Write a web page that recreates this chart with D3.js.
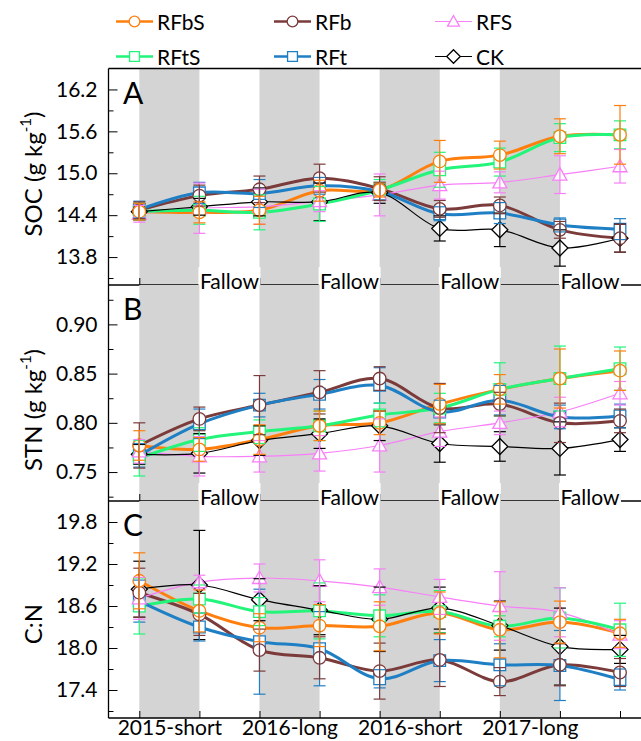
<!DOCTYPE html>
<html>
<head>
<meta charset="utf-8">
<script src="https://cdn.jsdelivr.net/npm/d3@7"></script>
<style>
body { margin: 0; background: #fff; }
svg { display: block; font-family: Lato, "Open Sans", sans-serif; }
</style>
</head>
<body>
<svg width="641" height="741"></svg>
<script>
// sampling points (9 seasons), grey bands = cropping seasons
const points = [1, 2, 3, 4, 5, 6, 7, 8, 9]
const seasonLabels = ["2015-short", "2016-long", "2016-short", "2017-long"]
const seasonPos = [1.5, 3.5, 5.5, 7.5]
const bands = [[1, 2], [3, 4], [5, 6], [7, 8]]
const fallowPos = [2.5, 4.5, 6.5, 8.5]
const seriesNames = ["RFbS", "RFb", "RFS", "RFtS", "RFt", "CK"]

// rows follow seriesNames
const socMean = [
	[14.45, 14.44, 14.47, 14.75, 14.76, 15.17, 15.26, 15.53, 15.55],
	[14.47, 14.68, 14.77, 14.93, 14.78, 14.49, 14.54, 14.19, 14.07],
	[14.42, 14.50, 14.52, 14.60, 14.69, 14.83, 14.87, 14.98, 15.10],
	[14.45, 14.47, 14.44, 14.56, 14.76, 15.05, 15.16, 15.51, 15.55],
	[14.48, 14.72, 14.71, 14.82, 14.74, 14.42, 14.43, 14.26, 14.20],
	[14.45, 14.52, 14.59, 14.59, 14.72, 14.21, 14.19, 13.93, 14.07]
]
const socErr = [
	[0.12, 0.15, 0.20, 0.15, 0.10, 0.30, 0.20, 0.25, 0.42],
	[0.12, 0.15, 0.19, 0.20, 0.17, 0.12, 0.12, 0.12, 0.20],
	[0.12, 0.36, 0.25, 0.15, 0.30, 0.20, 0.15, 0.27, 0.24],
	[0.12, 0.20, 0.25, 0.25, 0.15, 0.25, 0.20, 0.20, 0.20],
	[0.12, 0.15, 0.20, 0.12, 0.12, 0.10, 0.15, 0.10, 0.15],
	[0.12, 0.12, 0.20, 0.27, 0.15, 0.18, 0.24, 0.26, 0.20]
]
const stnMean = [
	[0.777, 0.773, 0.783, 0.797, 0.800, 0.819, 0.834, 0.845, 0.853],
	[0.777, 0.804, 0.818, 0.831, 0.845, 0.815, 0.819, 0.800, 0.802],
	[0.771, 0.766, 0.766, 0.769, 0.777, 0.791, 0.800, 0.811, 0.830],
	[0.764, 0.783, 0.791, 0.797, 0.808, 0.815, 0.834, 0.845, 0.855],
	[0.767, 0.799, 0.818, 0.829, 0.838, 0.811, 0.823, 0.806, 0.807],
	[0.768, 0.769, 0.782, 0.789, 0.797, 0.779, 0.776, 0.774, 0.783]
]
const stnErr = [
	[0.015, 0.012, 0.015, 0.015, 0.012, 0.020, 0.015, 0.030, 0.020],
	[0.023, 0.012, 0.030, 0.022, 0.012, 0.025, 0.012, 0.020, 0.012],
	[0.012, 0.020, 0.016, 0.018, 0.027, 0.015, 0.012, 0.015, 0.012],
	[0.018, 0.012, 0.012, 0.015, 0.012, 0.015, 0.027, 0.033, 0.022],
	[0.012, 0.015, 0.012, 0.015, 0.018, 0.012, 0.015, 0.012, 0.012],
	[0.010, 0.020, 0.015, 0.015, 0.015, 0.019, 0.015, 0.027, 0.012]
]
const cnMean = [
	[18.96, 18.53, 18.29, 18.32, 18.31, 18.50, 18.26, 18.37, 18.21],
	[18.79, 18.48, 17.97, 17.86, 17.67, 17.83, 17.52, 17.76, 17.65],
	[18.71, 18.94, 19.00, 18.96, 18.87, 18.73, 18.60, 18.51, 18.19],
	[18.60, 18.70, 18.52, 18.53, 18.46, 18.52, 18.31, 18.43, 18.26],
	[18.67, 18.30, 18.09, 17.99, 17.56, 17.82, 17.76, 17.75, 17.55],
	[18.84, 18.90, 18.69, 18.54, 18.41, 18.57, 18.32, 18.02, 17.98]
]
const cnErr = [
	[0.40, 0.30, 0.20, 0.30, 0.35, 0.30, 0.40, 0.30, 0.20],
	[0.35, 0.30, 0.30, 0.30, 0.40, 0.38, 0.20, 0.30, 0.20],
	[0.30, 0.10, 0.20, 0.30, 0.26, 0.25, 0.49, 0.35, 0.20],
	[0.40, 0.20, 0.20, 0.40, 0.30, 0.30, 0.15, 0.43, 0.38],
	[0.30, 0.20, 0.75, 0.53, 0.13, 0.30, 0.30, 0.50, 0.15],
	[0.40, 0.78, 0.30, 0.35, 0.46, 0.30, 0.35, 0.55, 0.20]
]
const socMajor = [13.8, 14.4, 15.0, 15.6, 16.2]
const socMinor = [13.5, 14.1, 14.7, 15.3, 15.9]
const stnMajor = [0.75, 0.80, 0.85, 0.90]
const stnMinor = [0.725, 0.775, 0.825, 0.875, 0.925]
const cnMajor = [17.4, 18.0, 18.6, 19.2, 19.8]
const cnMinor = [17.1, 17.7, 18.3, 18.9, 19.5]

// styles
const style = {
	RFbS: {color: "#ff7f0e", width: 3, shape: "circle"},
	RFb:  {color: "#7b3b3b", width: 3, shape: "circle"},
	RFS:  {color: "#f77ff7", width: 1.2, shape: "triangle"},
	RFtS: {color: "#22f57a", width: 3, shape: "square"},
	RFt:  {color: "#1f7fc4", width: 3, shape: "square"},
	CK:   {color: "#000000", width: 1.2, shape: "diamond"}
}

function markerPath(shape, s) {
	if (shape == "circle") {
		const r = 6.3 * s
		return "M" + (-r) + ",0A" + r + "," + r + " 0 1,0 " + r + ",0A" + r + "," + r + " 0 1,0 " + (-r) + ",0Z"
	}
	if (shape == "square") {
		const h = 5.8 * s
		return "M" + (-h) + "," + (-h) + "H" + h + "V" + h + "H" + (-h) + "Z"
	}
	if (shape == "triangle") {
		const w = 7 * s
		return "M0," + (-7 * s) + "L" + w + "," + (5.5 * s) + "L" + (-w) + "," + (5.5 * s) + "Z"
	}
	const d = 8 * s
	return "M0," + (-d) + "L" + d + ",0L0," + d + "L" + (-d) + ",0Z"
}

const svg = d3.select("svg")
const x = d3.scaleLinear().domain([1, 9]).range([139.3, 620])
const plotLeft = 108.5, plotRight = 645

const panels = [
	{letter: "A", top: 68.5, bottom: 285, domain: [13.4, 16.5], major: socMajor, minor: socMinor, fmt: ".1f",
	 mean: socMean, err: socErr, title: ["SOC (g kg", "-1", ")"], titleY: 174, fallow: true},
	{letter: "B", top: 285, bottom: 501, domain: [0.7206, 0.94], major: stnMajor, minor: stnMinor, fmt: ".2f",
	 mean: stnMean, err: stnErr, title: ["STN (g kg", "-1", ")"], titleY: 410, fallow: true},
	{letter: "C", top: 501, bottom: 718, domain: [17.0, 20.1], major: cnMajor, minor: cnMinor, fmt: ".1f",
	 mean: cnMean, err: cnErr, title: ["C:N"], titleY: 624, fallow: false}
]

panels.forEach(p => {
	const y = d3.scaleLinear().domain(p.domain).range([p.bottom, p.top])
	const g = svg.append("g")

	// grey season bands
	g.selectAll("rect.band").data(bands).enter().append("rect")
		.attr("x", d => x(d[0]))
		.attr("y", p.top)
		.attr("width", d => x(d[1]) - x(d[0]))
		.attr("height", p.bottom - p.top)
		.attr("fill", "#d4d4d4")

	// axes
	const yMajor = d3.axisLeft(y).tickValues(p.major).tickFormat(d3.format(p.fmt))
		.tickSizeInner(-9).tickSizeOuter(0).tickPadding(11)
	const ya = g.append("g").attr("transform", "translate(" + plotLeft + ",0)").call(yMajor)
	ya.select(".domain").remove()
	ya.selectAll("text").attr("font-size", 21).attr("font-family", "Lato").attr("fill", "#000")
	ya.selectAll("line").attr("stroke", "#000")
	const yMinor = d3.axisLeft(y).tickValues(p.minor).tickFormat("").tickSizeInner(-5).tickSizeOuter(0)
	const ym = g.append("g").attr("transform", "translate(" + plotLeft + ",0)").call(yMinor)
	ym.select(".domain").remove()

	const xa = g.append("g").attr("transform", "translate(0," + p.bottom + ")")
		.call(d3.axisBottom(x).tickValues(points).tickFormat("").tickSizeInner(-7).tickSizeOuter(0))
	xa.select(".domain").remove()

	// frame
	g.append("line").attr("x1", plotLeft).attr("x2", plotLeft).attr("y1", p.top).attr("y2", p.bottom)
		.attr("stroke", "#000").attr("stroke-width", 1.3)
	g.append("line").attr("x1", plotLeft).attr("x2", plotRight).attr("y1", p.bottom).attr("y2", p.bottom)
		.attr("stroke", "#000").attr("stroke-width", 1.3)
	if (p.letter == "A") {
		g.append("line").attr("x1", plotLeft).attr("x2", plotRight).attr("y1", p.top).attr("y2", p.top)
			.attr("stroke", "#000").attr("stroke-width", 1.3)
	}

	// series: lines first, then markers (CK at the bottom, RFbS on top), then error bars
	const line = d3.line().x((d, i) => x(points[i])).y(d => y(d)).curve(d3.curveCatmullRom.alpha(0.5))
	const lineG = g.append("g"), markG = g.append("g"), errG = g.append("g")
	seriesNames.forEach((name, si) => {
		const st = style[name]
		lineG.append("path").datum(p.mean[si]).attr("d", line)
			.attr("fill", "none").attr("stroke", st.color).attr("stroke-width", st.width)
	})
	seriesNames.slice().reverse().forEach(name => {
		const si = seriesNames.indexOf(name)
		const st = style[name]
		const vals = p.mean[si], errs = p.err[si]
		markG.append("g").selectAll("path").data(vals).enter().append("path")
			.attr("d", markerPath(st.shape, 1))
			.attr("transform", (d, i) => "translate(" + x(points[i]) + "," + y(d) + ")")
			.attr("fill", "#fff").attr("stroke", st.color).attr("stroke-width", 1.3)
		const eb = errG.append("g").selectAll("g").data(vals).enter().append("g")
			.attr("stroke", st.color).attr("stroke-width", 1.2)
		eb.append("line").attr("x1", (d, i) => x(points[i])).attr("x2", (d, i) => x(points[i]))
			.attr("y1", (d, i) => y(d - errs[i])).attr("y2", (d, i) => y(d + errs[i]))
		eb.append("line").attr("x1", (d, i) => x(points[i]) - 6).attr("x2", (d, i) => x(points[i]) + 6)
			.attr("y1", (d, i) => y(d + errs[i])).attr("y2", (d, i) => y(d + errs[i]))
		eb.append("line").attr("x1", (d, i) => x(points[i]) - 6).attr("x2", (d, i) => x(points[i]) + 6)
			.attr("y1", (d, i) => y(d - errs[i])).attr("y2", (d, i) => y(d - errs[i]))
	})

	// panel letter
	g.append("text").attr("x", 123).attr("y", p.top + 35).attr("font-size", 30).text(p.letter)

	// y title
	const t = g.append("text")
		.attr("transform", "translate(42," + p.titleY + ") rotate(-90)")
		.attr("text-anchor", "middle").attr("font-size", 24)
	t.append("tspan").text(p.title[0])
	if (p.title.length > 1) {
		t.append("tspan").attr("dy", -11).attr("font-size", 15).text(p.title[1])
		t.append("tspan").attr("dy", 11).text(p.title[2])
	}

	// fallow labels on the lower frame line
	if (p.fallow) {
		const fl = g.selectAll("g.fallow").data(fallowPos).enter().append("g")
		fl.append("rect").attr("x", d => x(d) - 31).attr("y", p.bottom - 18)
			.attr("width", 62).attr("height", 26).attr("fill", "#fff")
		fl.append("text").attr("x", d => x(d)).attr("y", p.bottom + 3.5)
			.attr("text-anchor", "middle").attr("font-size", 21).text("Fallow")
	}

	if (p.letter == "C") {
		const xl = g.append("g").attr("transform", "translate(0," + p.bottom + ")")
			.call(d3.axisBottom(x).tickValues(seasonPos).tickFormat((d, i) => seasonLabels[i]).tickSize(0).tickPadding(2))
		xl.select(".domain").remove()
		xl.selectAll("text").attr("font-size", 21).attr("font-family", "Lato").attr("fill", "#000")
	}
})

// legend
const legCols = [116, 274, 435]
const legRows = [21.5, 56.5]
seriesNames.forEach((name, i) => {
	const st = style[name]
	const lx = legCols[i % 3], ly = legRows[Math.floor(i / 3)]
	const lg = svg.append("g").attr("transform", "translate(" + lx + "," + ly + ")")
	lg.append("line").attr("x1", 0).attr("x2", 37).attr("y1", 0).attr("y2", 0)
		.attr("stroke", st.color).attr("stroke-width", st.width == 3 ? 2.5 : 1.2)
	lg.append("path").attr("d", markerPath(st.shape, 0.85)).attr("transform", "translate(18.5,0)")
		.attr("fill", "#fff").attr("stroke", st.color).attr("stroke-width", 1.3)
	lg.append("text").attr("x", 41).attr("y", 8).attr("font-size", 21).text(name)
})
</script>
</body>
</html>
